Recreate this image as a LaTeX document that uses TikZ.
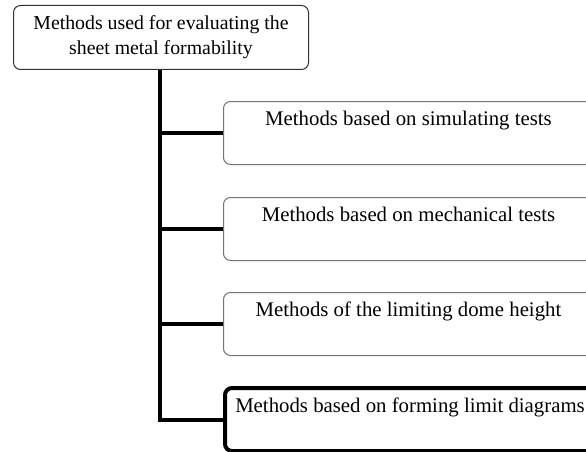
\documentclass[tikz,border=0pt]{standalone}
\usepackage{fontspec}
\setmainfont{Liberation Serif}
\begin{document}
\begin{tikzpicture}[x=1pt,y=-1pt,
  box/.style={draw=black!55, line width=1pt, rounded corners=7pt, inner sep=0pt,
    anchor=north west, minimum width=370pt, text height=24pt, text depth=39pt,
    font=\fontsize{20.8}{25}\selectfont},
  topbox/.style={draw=black!80, line width=1pt, rounded corners=7pt, inner sep=0pt,
    anchor=north west, minimum width=295pt, minimum height=64pt, align=center,
    font=\fontsize{19.8}{25}\selectfont},
  conn/.style={line width=4pt, line join=miter}]
\clip (0,0) rectangle (586,452);
\node[topbox] (top) at (13,5) {Methods used for evaluating the\\sheet metal formability};
\node[box] (b1) at (223,101) {Methods based on simulating tests};
\node[box] (b2) at (223,197) {Methods based on mechanical tests};
\node[box] (b3) at (223,292) {Methods of the limiting dome height};
\node[box, draw=black, line width=4pt] (b4) at (223,386) {Methods based on forming limit diagrams};
\coordinate (trunk) at (160,0);
\draw[conn] (trunk |- top.south) |- (b4.west);
\draw[conn] (trunk |- b1.west) -- (b1.west);
\draw[conn] (trunk |- b2.west) -- (b2.west);
\draw[conn] (trunk |- b3.west) -- (b3.west);
\end{tikzpicture}
\end{document}
